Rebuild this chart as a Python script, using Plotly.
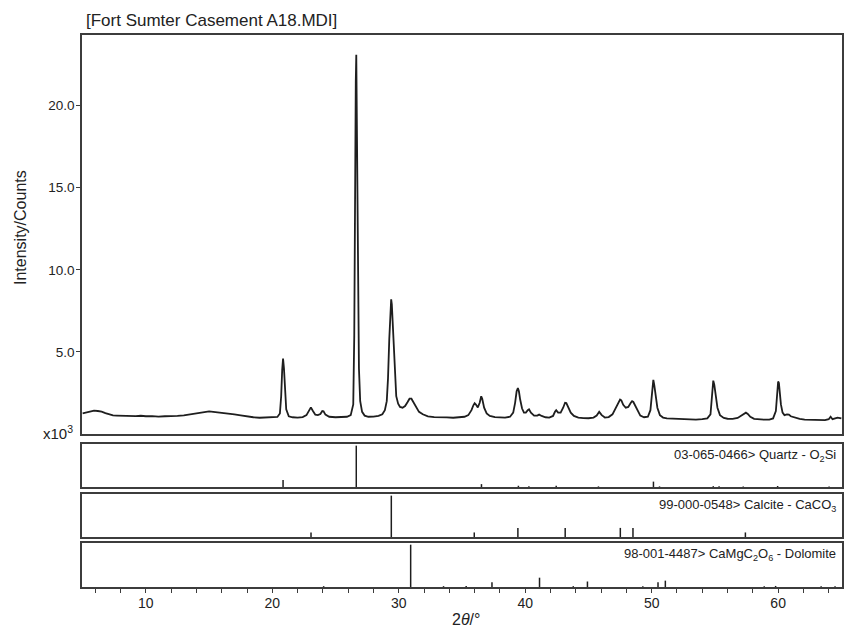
import plotly.graph_objects as go

# ---------------- data ----------------
two_theta = [
    5.0, 5.3, 5.6, 5.9, 6.2, 6.5, 6.8, 7.1, 7.4, 7.7,
    8.0, 8.4, 8.8, 9.2, 9.6, 10.0, 10.5, 11.0, 11.5, 12.0,
    12.5, 13.0, 13.5, 14.0, 14.5, 15.0, 15.5, 16.0, 16.5, 17.0,
    17.5, 18.0, 18.5, 19.0, 19.5, 20.0, 20.4, 20.6, 20.7, 20.78,
    20.85, 20.92, 21.0, 21.1, 21.3, 21.6, 22.0, 22.4, 22.7, 22.9,
    23.05, 23.2, 23.4, 23.6, 23.8, 23.95, 24.05, 24.2, 24.5, 25.0,
    25.5, 25.9, 26.2, 26.4, 26.48, 26.55, 26.6, 26.64, 26.68, 26.72,
    26.78, 26.85, 26.95, 27.1, 27.3, 27.6, 28.0, 28.4, 28.7, 28.9,
    29.05, 29.15, 29.25, 29.33, 29.4, 29.45, 29.52, 29.6, 29.7, 29.8,
    29.95, 30.1, 30.3, 30.5, 30.7, 30.85, 31.0, 31.15, 31.35, 31.6,
    31.9, 32.3, 32.8, 33.3, 33.8, 34.3, 34.8, 35.2, 35.5, 35.75,
    35.9, 36.0, 36.1, 36.25, 36.4, 36.52, 36.6, 36.75, 36.95, 37.2,
    37.6, 38.0, 38.4, 38.8, 39.05, 39.2, 39.32, 39.42, 39.5, 39.6,
    39.75, 39.9, 40.05, 40.2, 40.3, 40.45, 40.7, 40.95, 41.1, 41.3,
    41.6, 41.9, 42.2, 42.35, 42.45, 42.6, 42.8, 43.0, 43.15, 43.25,
    43.4, 43.6, 43.85, 44.2, 44.6, 45.0, 45.4, 45.65, 45.85, 46.05,
    46.3, 46.6, 46.9, 47.15, 47.35, 47.5, 47.6, 47.75, 47.95, 48.15,
    48.35, 48.45, 48.55, 48.7, 48.9, 49.1, 49.4, 49.7, 49.9, 50.0,
    50.07, 50.13, 50.2, 50.3, 50.45, 50.65, 50.9, 51.2, 51.6, 52.0,
    52.5, 53.0, 53.5, 54.0, 54.4, 54.65, 54.78, 54.87, 54.95, 55.05,
    55.2, 55.4, 55.7, 56.0, 56.4, 56.8, 57.1, 57.3, 57.45, 57.6,
    57.8, 58.1, 58.5, 58.9, 59.3, 59.6, 59.82, 59.93, 60.0, 60.06,
    60.12, 60.22, 60.35, 60.5, 60.7, 60.85, 61.0, 61.3, 61.7, 62.1,
    62.5, 62.9, 63.3, 63.7, 64.0, 64.15, 64.3, 64.5, 64.7, 65.0,
]
counts_k = [
    1.26, 1.32, 1.38, 1.42, 1.40, 1.36, 1.27, 1.19, 1.13, 1.12,
    1.11, 1.12, 1.10, 1.09, 1.11, 1.08, 1.09, 1.06, 1.08, 1.07,
    1.10, 1.14, 1.19, 1.25, 1.33, 1.38, 1.33, 1.30, 1.26, 1.20,
    1.14, 1.07, 1.02, 0.99, 1.00, 1.01, 1.04, 1.25, 2.30, 3.90,
    4.60, 4.00, 2.60, 1.50, 1.08, 1.02, 1.00, 1.03, 1.15, 1.42,
    1.62, 1.42, 1.18, 1.15, 1.22, 1.40, 1.38, 1.18, 1.05, 1.02,
    1.03, 1.05, 1.15, 1.80, 6.00, 18.4, 21.5, 23.1, 20.0, 15.8,
    9.00, 4.00, 2.00, 1.35, 1.12, 1.05, 1.06, 1.10, 1.20, 1.45,
    2.00, 3.40, 5.80, 7.60, 8.20, 7.90, 6.80, 4.80, 3.10, 2.30,
    1.85, 1.65, 1.60, 1.70, 1.95, 2.15, 2.15, 1.95, 1.60, 1.35,
    1.20, 1.08, 1.03, 1.00, 1.01, 0.99, 1.00, 1.05, 1.15, 1.45,
    1.75, 1.88, 1.80, 1.62, 1.90, 2.30, 2.15, 1.60, 1.25, 1.10,
    1.03, 1.00, 1.00, 1.05, 1.30, 1.90, 2.60, 2.80, 2.60, 2.10,
    1.55, 1.30, 1.30, 1.45, 1.50, 1.30, 1.12, 1.12, 1.18, 1.10,
    1.02, 1.00, 1.10, 1.35, 1.45, 1.30, 1.30, 1.60, 1.90, 1.88,
    1.65, 1.30, 1.10, 1.00, 0.97, 0.96, 1.00, 1.12, 1.35, 1.15,
    1.00, 1.03, 1.20, 1.60, 1.95, 2.10, 2.05, 1.78, 1.60, 1.65,
    1.90, 2.00, 1.95, 1.70, 1.35, 1.12, 1.02, 1.05, 1.45, 2.30,
    3.00, 3.30, 3.00, 2.40, 1.60, 1.15, 1.00, 0.95, 0.93, 0.92,
    0.90, 0.90, 0.88, 0.90, 0.95, 1.20, 2.30, 3.25, 3.00, 2.30,
    1.60, 1.15, 0.98, 0.93, 0.92, 0.98, 1.12, 1.25, 1.30, 1.22,
    1.05, 0.92, 0.88, 0.87, 0.88, 0.95, 1.40, 2.50, 3.20, 3.10,
    2.60, 1.80, 1.30, 1.15, 1.20, 1.18, 1.08, 1.00, 0.92, 0.88,
    0.86, 0.85, 0.83, 0.84, 0.90, 1.05, 0.90, 0.95, 1.00, 0.95,
]

quartz_pos = [20.85, 26.64, 36.54, 39.46, 40.29, 42.45, 45.79, 50.14, 50.62, 54.87, 55.33, 57.24, 59.96, 64.03]
quartz_int = [17, 100, 7, 3, 2, 3, 1.5, 13, 1.5, 2, 2, 1.5, 2.5, 1.5]

calcite_pos = [23.06, 29.41, 35.97, 39.42, 43.16, 47.52, 48.52, 57.41]
calcite_int = [11, 100, 11, 22, 22, 22, 22, 11]

dolomite_pos = [24.06, 30.94, 33.54, 35.33, 37.37, 41.13, 43.8, 44.92, 49.3, 50.5, 51.08, 58.9, 59.8, 63.4, 64.5]
dolomite_int = [2, 100, 2, 2.5, 11, 22, 2, 13, 2, 11, 15, 2, 2.5, 2, 2]

phase_labels = [
    "03-065-0466> Quartz - O<sub>2</sub>Si",
    "99-000-0548> Calcite - CaCO<sub>3</sub>",
    "98-001-4487> CaMgC<sub>2</sub>O<sub>6</sub> - Dolomite",
]

x_ticks = [10, 20, 30, 40, 50, 60]
y_ticks = [5, 10, 15, 20]
y_tick_text = ["5.0", "10.0", "15.0", "20.0"]

# ---------------- figure ----------------
W, H = 846, 630
FONT = "Liberation Sans, Arial, Helvetica, sans-serif"
LINE = "#3c3c3c"
INK = "#1e1e1e"
LW = 1.5

def py(p):
    return 1 - p / H

x_dom = [82 / W, 842 / W]
y_doms = [
    [py(434), py(35)],
    [py(487), py(444)],
    [py(537), py(494)],
    [py(587), py(543)],
]

fig = go.Figure()

fig.add_trace(go.Scatter(
    x=two_theta, y=counts_k, mode="lines",
    line=dict(color=INK, width=1.8), xaxis="x", yaxis="y", showlegend=False,
))

def sticks(pos, inten):
    xs, ys = [], []
    for p, v in zip(pos, inten):
        xs += [p, p, None]
        ys += [0, v, None]
    return xs, ys

for i, (pos, inten) in enumerate([(quartz_pos, quartz_int), (calcite_pos, calcite_int), (dolomite_pos, dolomite_int)]):
    xs, ys = sticks(pos, inten)
    fig.add_trace(go.Scatter(
        x=xs, y=ys, mode="lines", line=dict(color=INK, width=1.5),
        xaxis=f"x{i+2}", yaxis=f"y{i+2}", showlegend=False,
    ))

xr = [4.95, 65.05]
common_x = dict(range=xr, showline=True, mirror=True, linecolor=LINE, linewidth=LW,
                showgrid=False, zeroline=False, automargin=False, domain=x_dom)
common_y = dict(showline=True, mirror=True, linecolor=LINE, linewidth=LW,
                showgrid=False, zeroline=False, automargin=False)

layout = dict(
    width=W, height=H, margin=dict(l=0, r=0, t=0, b=0),
    paper_bgcolor="white", plot_bgcolor="white",
    font=dict(family=FONT, color="#222", size=13),
    showlegend=False,
)
layout["xaxis"] = dict(common_x, anchor="y", showticklabels=False, ticks="")
layout["yaxis"] = dict(common_y, domain=y_doms[0], anchor="x", range=[0, 24.3],
                       tickvals=y_ticks, ticktext=y_tick_text, ticks="outside",
                       ticklen=4, tickcolor=LINE, tickwidth=1.2, ticklabelstandoff=-1,
                       tickfont=dict(size=13.5, family=FONT, color="#222"))
for i in range(2, 5):
    xa = dict(common_x, anchor=f"y{i}", matches="x")
    if i < 4:
        xa.update(showticklabels=False, ticks="")
    else:
        xa.update(tickvals=x_ticks, ticks="outside", ticklen=4, tickcolor=LINE, tickwidth=1.2,
                  ticklabelstandoff=-2,
                  tickfont=dict(size=14, family=FONT, color="#222"),
                  minor=dict(dtick=2, tick0=0, ticks="outside", ticklen=4, tickcolor=LINE, tickwidth=1.2))
    layout[f"xaxis{i}"] = xa
    layout[f"yaxis{i}"] = dict(common_y, domain=y_doms[i - 1], anchor=f"x{i}",
                               range=[0, 104], showticklabels=False, ticks="")

annotations = [
    dict(text="[Fort Sumter Casement A18.MDI]", x=84 / W, y=py(20), xref="paper", yref="paper",
         xanchor="left", yanchor="middle", showarrow=False, font=dict(size=17, family=FONT, color="#222")),
    dict(text="Intensity/Counts", x=20 / W, y=py(228), xref="paper", yref="paper",
         xanchor="center", yanchor="middle", textangle=-90, showarrow=False,
         font=dict(size=16, family=FONT, color="#222")),
    dict(text="x10<sup>3</sup>", x=75 / W, y=py(432), xref="paper", yref="paper",
         xanchor="right", yanchor="middle", showarrow=False, font=dict(size=15, family=FONT, color="#222")),
    dict(text="2<i>θ</i>/°", x=466 / W, y=py(619), xref="paper", yref="paper",
         xanchor="center", yanchor="middle", showarrow=False, font=dict(size=16, family=FONT, color="#222")),
]
for i, lab in enumerate(phase_labels):
    annotations.append(dict(
        text=lab, x=1, y=1, xref=f"x{i+2} domain", yref=f"y{i+2} domain",
        xanchor="right", yanchor="top", xshift=-4, yshift=-1, showarrow=False,
        font=dict(size=13, family=FONT, color="#222"),
    ))
layout["annotations"] = annotations

fig.update_layout(**layout)
fig.write_html("out.html")
